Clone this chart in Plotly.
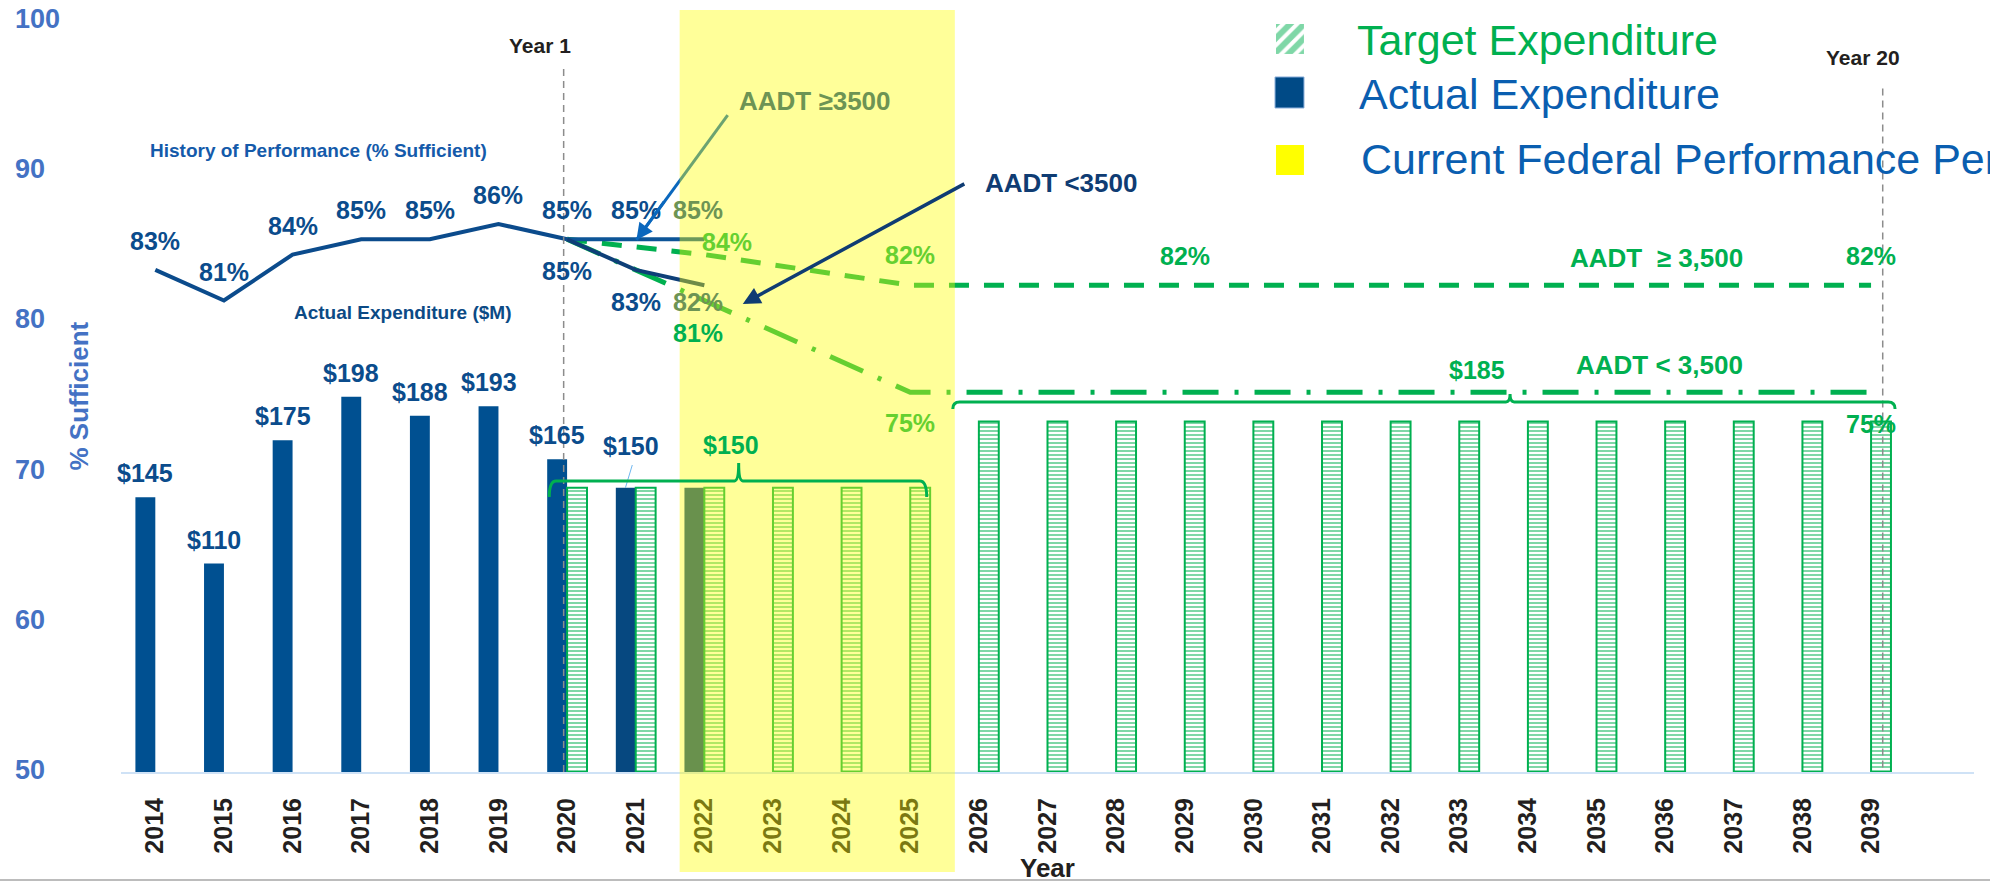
import plotly.graph_objects as go

# ---------------------------------------------------------------- data
years = list(range(2014, 2040))
year_text = [str(y) for y in years]

# actual expenditure, $M
actual_years = [2014, 2015, 2016, 2017, 2018, 2019, 2020, 2021, 2022]
actual_spend = [145, 110, 175, 198, 188, 193, 165, 150, 150]
actual_labelled = [True, True, True, True, True, True, True, True, False]

# target expenditure, $M
target_years = [2020, 2021, 2022, 2023, 2024, 2025, 2026, 2027, 2028, 2029,
                2030, 2031, 2032, 2033, 2034, 2035, 2036, 2037, 2038, 2039]
target_spend = [150, 150, 150, 150, 150, 150, 185, 185, 185, 185,
                185, 185, 185, 185, 185, 185, 185, 185, 185, 185]

# history of performance, % sufficient
hist_years = [2014, 2015, 2016, 2017, 2018, 2019, 2020]
hist_pct = [83, 81, 84, 85, 85, 86, 85]

# actual performance after Year 1, split by traffic volume
hi_years = [2020, 2021, 2022]          # AADT >= 3500
hi_pct = [85, 85, 85]
lo_years = [2020, 2021, 2022]          # AADT < 3500
lo_pct = [85, 83, 82]

# targets to Year 20
tgt_hi_years = [2020, 2022, 2025, 2029, 2039]   # AADT >= 3,500
tgt_hi_pct = [85, 84, 82, 82, 82]
tgt_lo_years = [2020, 2022, 2025, 2039]         # AADT < 3,500
tgt_lo_pct = [85, 81, 75, 75]

pct_ticks = [50, 60, 70, 80, 90, 100]

# ---------------------------------------------------------------- style
FONT = "Liberation Sans, Arial, sans-serif"
GREEN = "#00b050"
BAR_BLUE = "#005091"
BAR_BLUE_RECENT = "#064880"
LABEL_BLUE = "#0b4c8c"
NAVY = "#0f3c73"
ARROW_BLUE = "#0a67bd"
TICK_BLUE = "#4472c4"
DARK = "#231f20"
LEGEND_BLUE = "#0a5eb0"

YELLOW_ALPHA = 0.4
PERIOD = (2021.64, 2025.65)          # current federal performance period

X_RANGE = [2013.5, 2040.5]
SPEND_RANGE = [0, 396.3]
PCT_RANGE = [50, 100]
LINE_RANGE = [50.18, 99.27]

BAR_W = 0.29


def shaded(hex_color):
    """Colour as it appears under the translucent period highlight."""
    h = hex_color.lstrip("#")
    r, g, b = (int(h[i:i + 2], 16) for i in (0, 2, 4))
    a = YELLOW_ALPHA
    r = round(r * (1 - a) + 255 * a)
    g = round(g * (1 - a) + 255 * a)
    b = round(b * (1 - a))
    return f"rgb({r},{g},{b})"


def to_paper_x(x):
    return (x - X_RANGE[0]) / (X_RANGE[1] - X_RANGE[0])


fig = go.Figure()

# ---------------------------------------------------------------- bars
fig.add_trace(go.Bar(
    x=actual_years, y=actual_spend, width=BAR_W, offset=-BAR_W,
    marker=dict(color=[BAR_BLUE] * 7 + [BAR_BLUE_RECENT] * 2, line_width=0),
    yaxis="y", hoverinfo="skip", showlegend=False,
))
fig.add_trace(go.Bar(
    x=target_years, y=target_spend, width=BAR_W, offset=0,
    marker=dict(color="white", line=dict(color=GREEN, width=2),
                pattern=dict(shape="-", fgcolor=GREEN, bgcolor="white",
                             size=4, solidity=0.5)),
    yaxis="y", hoverinfo="skip", showlegend=False,
))

# % axis carrier
fig.add_trace(go.Scatter(x=[X_RANGE[0]], y=[PCT_RANGE[0]], mode="markers",
                         marker=dict(opacity=0), yaxis="y2",
                         hoverinfo="skip", showlegend=False))

# ---------------------------------------------------------------- lines
fig.add_trace(go.Scatter(x=tgt_hi_years, y=tgt_hi_pct, mode="lines",
                         line=dict(color=GREEN, width=5, dash="20px,15px"),
                         yaxis="y3", hoverinfo="skip", showlegend=False))
fig.add_trace(go.Scatter(x=tgt_lo_years, y=tgt_lo_pct, mode="lines",
                         line=dict(color=GREEN, width=5, dash="36px,16px,4px,16px"),
                         yaxis="y3", hoverinfo="skip", showlegend=False))
fig.add_trace(go.Scatter(x=hist_years, y=hist_pct, mode="lines",
                         line=dict(color="#0b4b8c", width=4),
                         yaxis="y3", hoverinfo="skip", showlegend=False))
fig.add_trace(go.Scatter(x=hi_years, y=hi_pct, mode="lines",
                         line=dict(color="#0d5597", width=4),
                         yaxis="y3", hoverinfo="skip", showlegend=False))
fig.add_trace(go.Scatter(x=lo_years, y=lo_pct, mode="lines",
                         line=dict(color="#0e3f78", width=4),
                         yaxis="y3", hoverinfo="skip", showlegend=False))

# legend swatch with diagonal hatching
fig.add_trace(go.Bar(
    x=[0], y=[1], width=[1], xaxis="x2", yaxis="y4",
    marker=dict(color="white", line_width=0,
                pattern=dict(shape="/", fgcolor=GREEN, bgcolor="white",
                             size=10, solidity=0.6)),
    hoverinfo="skip", showlegend=False,
))

# ---------------------------------------------------------------- annotations
ann = []


def label(x, y, text, color, yref="y3", dx=0, dy=0, size=25, bold=True,
          xanchor="center", xref="x", angle=0):
    ann.append(dict(
        x=x, y=y, xref=xref, yref=yref, text=text, showarrow=False,
        xanchor=xanchor, yanchor="middle", xshift=dx, yshift=dy,
        textangle=angle,
        font=dict(family=FONT, size=size, color=color,
                  weight="bold" if bold else "normal"),
    ))


# history labels (above)
for yr, v in zip(hist_years, hist_pct):
    label(yr, v, f"{v}%", LABEL_BLUE, dy=29)
# AADT >= 3500 actual
label(hi_years[1], hi_pct[1], f"{hi_pct[1]}%", LABEL_BLUE, dy=29)
label(hi_years[2], hi_pct[2], f"{hi_pct[2]}%", shaded(LABEL_BLUE), dx=-6, dy=29)
# AADT < 3500 actual
label(lo_years[0], lo_pct[0], f"{lo_pct[0]}%", LABEL_BLUE, dy=-32)
label(lo_years[1], lo_pct[1], f"{lo_pct[1]}%", LABEL_BLUE, dy=-32)
label(lo_years[2], lo_pct[2], f"{lo_pct[2]}%", shaded(LABEL_BLUE), dx=-6, dy=-17)

# target labels
tgt_hi_offsets = [None, (23, 13, True), (0, 30, True), (0, 29, False), (0, 29, False)]
for yr, v, off in zip(tgt_hi_years, tgt_hi_pct, tgt_hi_offsets):
    if off is None:
        continue
    dx, dy, inside = off
    label(yr, v, f"{v}%", shaded(GREEN) if inside else GREEN, dx=dx, dy=dy)
tgt_lo_offsets = [None, (-6, -32, False), (0, -31, True), (0, -32, False)]
for yr, v, off in zip(tgt_lo_years, tgt_lo_pct, tgt_lo_offsets):
    if off is None:
        continue
    dx, dy, inside = off
    label(yr, v, f"{v}%", shaded(GREEN) if inside else GREEN, dx=dx, dy=dy)

# expenditure labels
for yr, v, show in zip(actual_years, actual_spend, actual_labelled):
    if not show:
        continue
    if yr == 2021:
        label(yr - BAR_W / 2, v, f"${v}", LABEL_BLUE, yref="y", dx=5, dy=42)
    else:
        label(yr - BAR_W / 2, v, f"${v}", LABEL_BLUE, yref="y", dy=24)
label(2022.5, target_spend[2], f"${target_spend[2]}", GREEN, yref="y", dx=-8, dy=43)
label(2033.26, target_spend[-1], f"${target_spend[-1]}", GREEN, yref="y", dy=51)

# captions (positions on the % axis)
label(2016.38, 91.4, "History of Performance (% Sufficient)", "#145aaa",
      yref="y2", size=19)
label(2017.6, 80.56, "Actual Expenditure ($M)", "#0c4a85", yref="y2", size=19)
label(2023.61, 94.67, "AADT \u22653500", shaded(LABEL_BLUE), yref="y2", size=26)
label(2027.19, 89.21, "AADT <3500", NAVY, yref="y2", size=26)
label(2035.88, 84.22, "AADT  \u2265 3,500", GREEN, yref="y2", size=26)
label(2035.92, 77.1, "AADT < 3,500", GREEN, yref="y2", size=26)
label(2019.61, 98.4, "Year 1", DARK, yref="y2", size=21)
label(2038.88, 97.6, "Year 20", DARK, yref="y2", size=21)

# % axis tick labels, left aligned
for t in pct_ticks:
    label(-0.0583, t, str(t), TICK_BLUE, yref="y2", xref="paper",
          xanchor="left", size=27, dy=2)
label(-0.0232, 0.5, "% Sufficient", TICK_BLUE, yref="paper", xref="paper",
      size=26, angle=-90)
label(0.5, -0.1275, "Year", DARK, yref="paper", xref="paper", size=26)

# legend text
label(0.6659, 0.9747, "Target Expenditure", GREEN, yref="paper", xref="paper",
      xanchor="left", size=43, bold=False)
label(0.6670, 0.9028, "Actual Expenditure", LEGEND_BLUE, yref="paper",
      xref="paper", xanchor="left", size=43, bold=False)
label(0.6681, 0.8162, "Current Federal Performance Period", LEGEND_BLUE,
      yref="paper", xref="paper", xanchor="left", size=43, bold=False)

# arrows
ann.append(dict(x=2021.01, y=85.42, xref="x", yref="y2", ax=2021.43, ay=88.08,
                axref="x", ayref="y2", text="", showarrow=True, arrowhead=2,
                arrowsize=1.1, arrowwidth=3, arrowcolor=ARROW_BLUE))
ann.append(dict(x=2022.56, y=81.16, xref="x", yref="y2", ax=2025.81, ay=89.21,
                axref="x", ayref="y2", text="", showarrow=True, arrowhead=2,
                arrowsize=1, arrowwidth=3.5, arrowcolor=NAVY))

# ---------------------------------------------------------------- shapes
shapes = []
# Year 1 / Year 20 markers
shapes.append(dict(type="line", xref="x", yref="y2", x0=2019.95, x1=2019.95,
                   y0=50, y1=97.07, layer="above",
                   line=dict(color="#8c8c8c", width=1.5, dash="7px,5px")))
shapes.append(dict(type="line", xref="x", yref="y2", x0=2039.17, x1=2039.17,
                   y0=50.3, y1=95.54, layer="above",
                   line=dict(color="#8c8c8c", width=1.5, dash="7px,5px")))
# pointer line for the AADT >= 3500 caption
shapes.append(dict(type="line", xref="x", yref="y2", x0=2022.34, y0=93.74,
                   x1=2021.01, y1=85.42, layer="above",
                   line=dict(color=ARROW_BLUE, width=3)))
# leader from the 2021 label to its bar
shapes.append(dict(type="line", xref="x", yref="y", x0=2020.95, y0=162,
                   x1=2020.85, y1=150, layer="above",
                   line=dict(color="#6fb7f0", width=1)))
# current federal performance period highlight
shapes.append(dict(type="rect", xref="paper", yref="paper",
                   x0=to_paper_x(PERIOD[0]), x1=to_paper_x(PERIOD[1]),
                   y0=-0.1332, y1=1.0146, layer="above", line_width=0,
                   fillcolor=f"rgba(255,255,0,{YELLOW_ALPHA})"))


def brace(xl, xr, xn, yh, ye, yn):
    r = 0.1
    return (f"M {xl},{ye} Q {xl},{yh} {xl + r},{yh} "
            f"L {xn - 0.06},{yh} Q {xn},{yh} {xn},{yn} "
            f"Q {xn},{yh} {xn + 0.06},{yh} "
            f"L {xr - r},{yh} Q {xr},{yh} {xr},{ye}")


shapes.append(dict(type="path", xref="x", yref="y", layer="above",
                   path=brace(2019.74, 2025.24, 2022.5, 153.6, 145.1, 163.0),
                   line=dict(color=GREEN, width=3)))
shapes.append(dict(type="path", xref="x", yref="y", layer="above",
                   path=brace(2025.62, 2039.35, 2033.74, 195.3, 191.6, 199.5),
                   line=dict(color=GREEN, width=3)))

# legend swatches
shapes.append(dict(type="rect", xref="paper", yref="paper", x0=0.6228, x1=0.6384,
                   y0=0.8842, y1=0.9254, fillcolor="#004a86",
                   line=dict(color="#7fa7d6", width=1), layer="above"))
shapes.append(dict(type="rect", xref="paper", yref="paper", x0=0.6233, x1=0.6384,
                   y0=0.7949, y1=0.8349, fillcolor="#ffff00", line_width=0,
                   layer="above"))
# page rule at the bottom
shapes.append(dict(type="line", xref="paper", yref="paper", x0=-0.066, x1=1.01,
                   y0=-0.1438, y1=-0.1438,
                   line=dict(color="#a6a6a6", width=1.5)))

# ---------------------------------------------------------------- layout
fig.update_layout(
    width=1990, height=883,
    margin=dict(l=121, r=16, t=21, b=111),
    paper_bgcolor="white", plot_bgcolor="white",
    barmode="overlay",
    showlegend=False,
    font=dict(family=FONT),
    xaxis=dict(
        range=X_RANGE, tickmode="array", tickvals=years, ticktext=year_text,
        tickangle=-90, ticks="", ticklabelstandoff=14,
        tickfont=dict(family=FONT, size=25, color=DARK, weight="bold"),
        showgrid=False, zeroline=False,
        showline=True, linecolor="#cfe2f6", linewidth=2,
    ),
    yaxis=dict(range=SPEND_RANGE, visible=False, showgrid=False),
    yaxis2=dict(range=PCT_RANGE, overlaying="y", visible=False, showgrid=False),
    yaxis3=dict(range=LINE_RANGE, overlaying="y", visible=False, showgrid=False),
    xaxis2=dict(domain=[0.6233, 0.6384], range=[-0.5, 0.5], visible=False,
                anchor="y4", fixedrange=True),
    yaxis4=dict(domain=[0.9561, 0.9960], range=[0, 1], visible=False,
                anchor="x2", fixedrange=True),
    annotations=ann,
    shapes=shapes,
)

fig.write_html("out.html")
